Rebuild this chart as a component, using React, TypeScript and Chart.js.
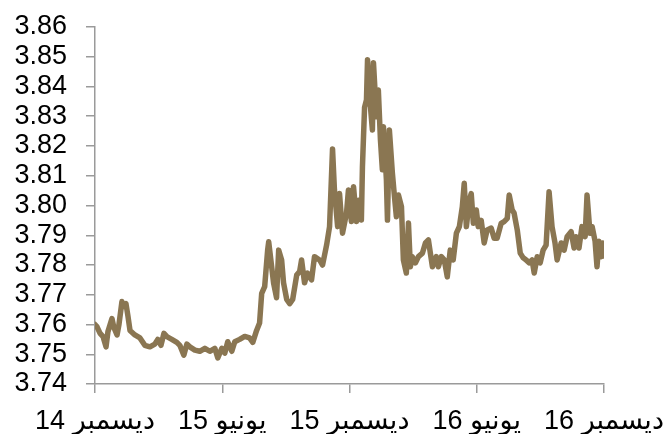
import React, { useEffect, useRef } from "react";
import { Chart, registerables } from "chart.js";

Chart.register(...registerables);

// Months since December 2014
const monthOffsets: number[] = [
  0, 0.09, 0.24, 0.38, 0.52, 0.61, 0.8, 0.89, 1.04, 1.13, 1.27, 1.32, 1.46, 1.55, 1.65, 1.88,
  2.12, 2.35, 2.59, 2.82, 2.96, 3.11, 3.25, 3.39, 3.62, 3.86, 4.0, 4.19, 4.33, 4.47, 4.71, 4.94,
  5.18, 5.41, 5.65, 5.79, 5.98, 6.12, 6.26, 6.45, 6.59, 6.82, 7.06, 7.29, 7.44, 7.62, 7.76, 7.86,
  8.0, 8.14, 8.19, 8.33, 8.42, 8.56, 8.66, 8.8, 8.89, 9.04, 9.18, 9.32, 9.51, 9.65, 9.74, 9.88,
  10.02, 10.21, 10.35, 10.59, 10.73, 10.92, 11.06, 11.2, 11.29, 11.44, 11.53, 11.67, 11.86, 11.95,
  12.09, 12.19, 12.33, 12.42, 12.56, 12.61, 12.71, 12.8, 12.85, 12.99, 13.08, 13.13, 13.27, 13.36,
  13.46, 13.55, 13.6, 13.74, 13.79, 13.88, 14.02, 14.12, 14.21, 14.31, 14.45, 14.54, 14.68, 14.78,
  14.87, 14.96, 15.11, 15.25, 15.44, 15.58, 15.72, 15.91, 16.09, 16.19, 16.33, 16.47, 16.61, 16.75,
  16.89, 17.04, 17.18, 17.32, 17.41, 17.51, 17.65, 17.74, 17.84, 17.98, 18.07, 18.21, 18.35, 18.49,
  18.68, 18.82, 18.96, 19.15, 19.29, 19.44, 19.53, 19.67, 19.76, 19.91, 20.05, 20.19, 20.33, 20.47,
  20.61, 20.71, 20.85, 20.99, 21.13, 21.27, 21.41, 21.55, 21.69, 21.79, 21.98, 22.12, 22.26, 22.45,
  22.59, 22.68, 22.82, 22.96, 23.11, 23.2, 23.34, 23.44, 23.58, 23.67, 23.76, 23.86, 23.93, 24.0,
];

const rateValues: number[] = [
  3.76, 3.7593, 3.757, 3.7559, 3.7525, 3.7576, 3.762, 3.759, 3.7565, 3.76, 3.7677, 3.766, 3.767, 3.763, 3.758, 3.7565,
  3.7555, 3.753, 3.7525, 3.7534, 3.755, 3.753, 3.757, 3.7559, 3.755, 3.754, 3.753, 3.7497, 3.7534, 3.7525, 3.7514, 3.751,
  3.752, 3.751, 3.752, 3.7488, 3.752, 3.7504, 3.7542, 3.751, 3.7542, 3.755, 3.756, 3.7555, 3.754, 3.758, 3.7605, 3.7705,
  3.7727, 3.785, 3.7878, 3.7794, 3.774, 3.769, 3.785, 3.7817, 3.774, 3.7684, 3.767, 3.7684, 3.7766, 3.7778, 3.7817, 3.774,
  3.7773, 3.775, 3.7828, 3.7817, 3.78, 3.7867, 3.7929, 3.819, 3.8052, 3.7929, 3.804, 3.7907, 3.7975, 3.8052,
  3.7946, 3.8063, 3.7946, 3.8018, 3.7951, 3.813, 3.833, 3.8355, 3.849, 3.833, 3.8254, 3.848, 3.8298, 3.8388,
  3.822, 3.812, 3.8265, 3.8086, 3.7951, 3.8254, 3.811, 3.803, 3.7962, 3.8035, 3.7996, 3.7817, 3.7773, 3.7941,
  3.7794, 3.7828, 3.7807, 3.7828, 3.784, 3.7874, 3.7884, 3.7794, 3.7828, 3.7794, 3.7828, 3.7817, 3.776, 3.785,
  3.7817, 3.7907, 3.7929, 3.7996, 3.8075, 3.7929, 3.8018, 3.804, 3.794, 3.7985, 3.7929, 3.795, 3.7874, 3.7918,
  3.7924, 3.789, 3.789, 3.794, 3.7946, 3.7957, 3.8035, 3.7985, 3.7975, 3.7918, 3.784, 3.7824, 3.7817, 3.7807,
  3.7817, 3.7773, 3.7828, 3.7807, 3.785, 3.7867, 3.8046, 3.7929, 3.7874, 3.7817, 3.7874, 3.785, 3.7895, 3.7912,
  3.7857, 3.7895, 3.7857, 3.7929, 3.7895, 3.8035, 3.7907, 3.7929, 3.788, 3.7794, 3.788, 3.7828, 3.7874, 3.783,
];

const xTickLabels: string[] = ["ديسمبر 14", "يونيو 15", "ديسمبر 15", "يونيو 16", "ديسمبر 16"];
const xTickPositions: number[] = [0, 6, 12, 18, 24];
const yMin = 3.74;
const yMax = 3.86;
const yStep = 0.01;

export default function App() {
  const canvasRef = useRef<HTMLCanvasElement | null>(null);

  useEffect(() => {
    document.body.style.margin = "0";
    const canvas = canvasRef.current;
    if (!canvas) return;
    const points = monthOffsets.map((m, i) => ({ x: m, y: rateValues[i] }));
    const font = { family: "'Liberation Sans', Arial, 'DejaVu Sans', sans-serif", size: 27, lineHeight: 1.0 };
    const axisColor = "#9a9a9a";
    const chart = new Chart(canvas, {
      type: "line",
      data: {
        datasets: [
          {
            data: points,
            borderColor: "#8a7652",
            borderWidth: 5.5,
            pointRadius: 0,
            tension: 0,
            borderJoinStyle: "round",
            borderCapStyle: "round",
          },
        ],
      },
      options: {
        animation: false,
        responsive: false,
        maintainAspectRatio: false,
        layout: { padding: { left: 0, right: 62, top: 27, bottom: 0 } },
        plugins: { legend: { display: false }, tooltip: { enabled: false } },
        scales: {
          x: {
            type: "linear",
            min: 0,
            max: 24,
            afterBuildTicks: (s: any) => {
              s.ticks = xTickPositions.map((v) => ({ value: v }));
            },
            afterFit: (s: any) => {
              s.height = 50;
              s.paddingLeft = 0;
              s.paddingRight = 0;
              s.paddingTop = 0;
              s.paddingBottom = 0;
            },
            ticks: {
              color: "#000",
              font,
              padding: 15,
              maxRotation: 0,
              autoSkip: false,
              callback: (v: any) => {
                const idx = xTickPositions.indexOf(Number(v));
                return idx >= 0 ? xTickLabels[idx] : "";
              },
            },
            grid: { display: true, drawOnChartArea: false, drawTicks: true, tickLength: 9, color: axisColor, lineWidth: 1.5 },
            border: { display: true, color: axisColor, width: 1.5 },
          },
          y: {
            min: yMin,
            max: yMax,
            afterFit: (s: any) => {
              s.width = 95;
              s.paddingLeft = 0;
              s.paddingRight = 0;
              s.paddingTop = 0;
              s.paddingBottom = 0;
            },
            ticks: {
              stepSize: yStep,
              autoSkip: false,
              color: "#000",
              font,
              padding: 19,
              callback: (v: any) => Number(v).toFixed(2),
            },
            grid: { display: true, drawOnChartArea: false, drawTicks: true, tickLength: 9, color: axisColor, lineWidth: 1.5 },
            border: { display: true, color: axisColor, width: 1.5 },
          },
        },
      },
    });
    return () => chart.destroy();
  }, []);

  return (
    <div style={{ width: 666, height: 434 }}>
      <canvas ref={canvasRef} width={666} height={434} style={{ display: "block" }} />
    </div>
  );
}
